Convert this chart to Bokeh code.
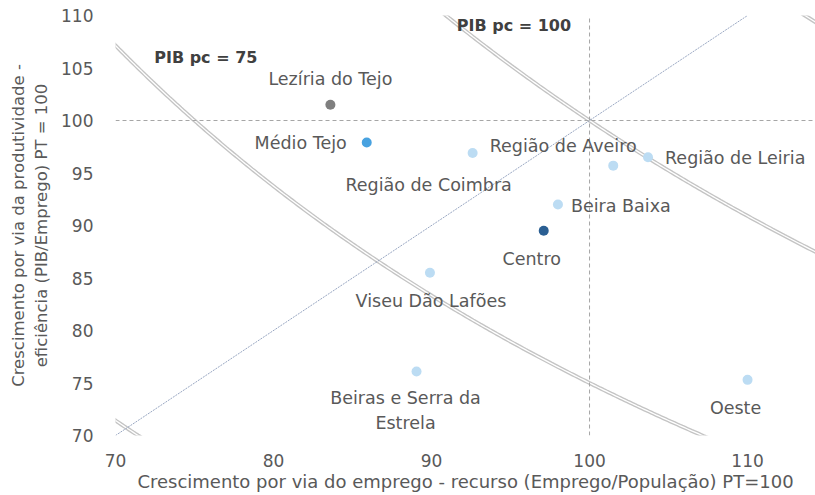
import numpy as np
from bokeh.plotting import figure
from bokeh.models import ColumnDataSource, LabelSet, Label, Span, Range1d, FixedTicker
from bokeh.core.properties import value
from bokeh.embed import file_html
from bokeh.resources import INLINE

# ---- data ----
regions = ["Lezíria do Tejo", "Médio Tejo", "Região de Coimbra", "Região de Aveiro",
           "Região de Leiria", "Beira Baixa", "Centro", "Viseu Dão Lafões",
           "Beiras e Serra da\nEstrela", "Oeste"]
emprego = [83.6, 85.9, 92.6, 101.5, 103.7, 98.0, 97.1, 89.9, 89.05, 110.0]
produtividade = [101.5, 97.9, 96.9, 95.7, 96.5, 92.0, 89.5, 85.5, 76.1, 75.3]
point_colors = ["#7f7f7f", "#48a2e0", "#bcdcf3", "#bcdcf3", "#bcdcf3", "#bcdcf3",
                "#2b5f93", "#bcdcf3", "#bcdcf3", "#bcdcf3"]
iso_levels = [50, 75, 100, 125]          # PIB pc iso-curves (PT = 100)
iso_labels = ["PIB pc = 75", "PIB pc = 100"]
iso_label_x = [72.45, 91.6]
iso_label_y = [106.0, 109.05]
x_ticks = [70, 80, 90, 100, 110]
y_ticks = [70, 75, 80, 85, 90, 95, 100, 105, 110]

# ---- label layout (pixel offsets, styling only) ----
lab_dx = [0, -20, -44, -50, 17, 13, -12, 1, -11, -12]
lab_dy = [26, 0, -32, 20, -1, -1, -28, -28, -39, -28]
lab_align = ["center", "right", "center", "center", "left", "left",
             "center", "center", "center", "center"]
LINE_H = 25

FONT = "DejaVu Sans"
TXT = "#595959"

p = figure(width=815, height=495, output_backend="svg", toolbar_location=None,
           x_range=Range1d(70, 114.3), y_range=Range1d(70, 110),
           min_border_left=115, min_border_right=0, min_border_top=15, min_border_bottom=60)
p.outline_line_color = None
p.xgrid.grid_line_color = None
p.ygrid.grid_line_color = None
p.background_fill_color = "white"
p.border_fill_color = "white"

for ax in (p.xaxis, p.yaxis):
    ax.axis_line_color = None
    ax.major_tick_line_color = None
    ax.minor_tick_line_color = None
    ax.major_tick_out = 0
    ax.major_tick_in = 0
    ax.major_label_text_font = FONT
    ax.major_label_text_font_size = "17px"
    ax.major_label_text_color = TXT
    ax.axis_label_text_font = FONT
    ax.axis_label_text_font_style = "normal"
    ax.axis_label_text_color = TXT

p.xaxis.axis_label_text_font_size = "18px"
p.yaxis.axis_label_text_font_size = "16.5px"
p.xaxis.ticker = FixedTicker(ticks=x_ticks)
p.yaxis.ticker = FixedTicker(ticks=y_ticks)
p.xaxis.major_label_standoff = 18
p.yaxis.major_label_standoff = 22
p.xaxis.axis_label_standoff = 1
p.yaxis.axis_label_standoff = 7
p.xaxis.axis_label = "Crescimento por via do emprego - recurso (Emprego/População) PT=100"
p.yaxis.axis_label = "Crescimento por via da produtividade -\neficiência (PIB/Emprego) PT = 100"

# iso GDP per capita curves: productivity * employment / 100 = level
xs = np.linspace(60, 120, 400)
for lvl in iso_levels:
    ys = lvl * 100.0 / xs
    p.line(xs, ys, line_color="#c4c4c4", line_width=4)
    p.line(xs, ys, line_color="white", line_width=1.3)

# diagonal y = x
p.line([x_ticks[0], x_ticks[-1]], [y_ticks[0], y_ticks[-1]],
       line_color="#8d9dbb", line_width=0.9, line_dash="2 1")

# reference lines
p.add_layout(Span(location=100, dimension="width", line_color="#a6a6a6",
                  line_dash="4 3", line_width=1))
p.segment(x0=[100], y0=[70], x1=[100], y1=[110], line_color="#a6a6a6",
          line_dash="4 3", line_width=1)

src = ColumnDataSource(dict(x=emprego, y=produtividade, c=point_colors))
p.scatter("x", "y", source=src, size=10, fill_color="c", line_color=None)

# one label row per text line, so multi-line names are centred line by line
lx, ly, lt, ldx, ldy, lal = [], [], [], [], [], []
for name, xv, yv, dx, dy, al in zip(regions, emprego, produtividade, lab_dx, lab_dy, lab_align):
    parts = name.split("\n")
    n = len(parts)
    for j, part in enumerate(parts):
        lx.append(xv); ly.append(yv); lt.append(part)
        ldx.append(dx); ldy.append(dy - (j - (n - 1) / 2) * LINE_H); lal.append(al)
lsrc = ColumnDataSource(dict(x=lx, y=ly, t=lt, dx=ldx, dy=ldy, al=lal))

labels = LabelSet(x="x", y="y", text="t", source=lsrc, x_offset="dx", y_offset="dy",
                  text_align="al", text_baseline=value("middle"), text_font=value(FONT),
                  text_font_size=value("17.5px"), text_color=value(TXT))
p.add_layout(labels)

for t, x0, y0 in zip(iso_labels, iso_label_x, iso_label_y):
    p.add_layout(Label(x=x0, y=y0, text=t, text_font=FONT, text_font_size="16px",
                       text_font_style="bold", text_color="#404040",
                       text_baseline="middle", text_align="left"))

open("out.html", "w").write(file_html(p, INLINE))
